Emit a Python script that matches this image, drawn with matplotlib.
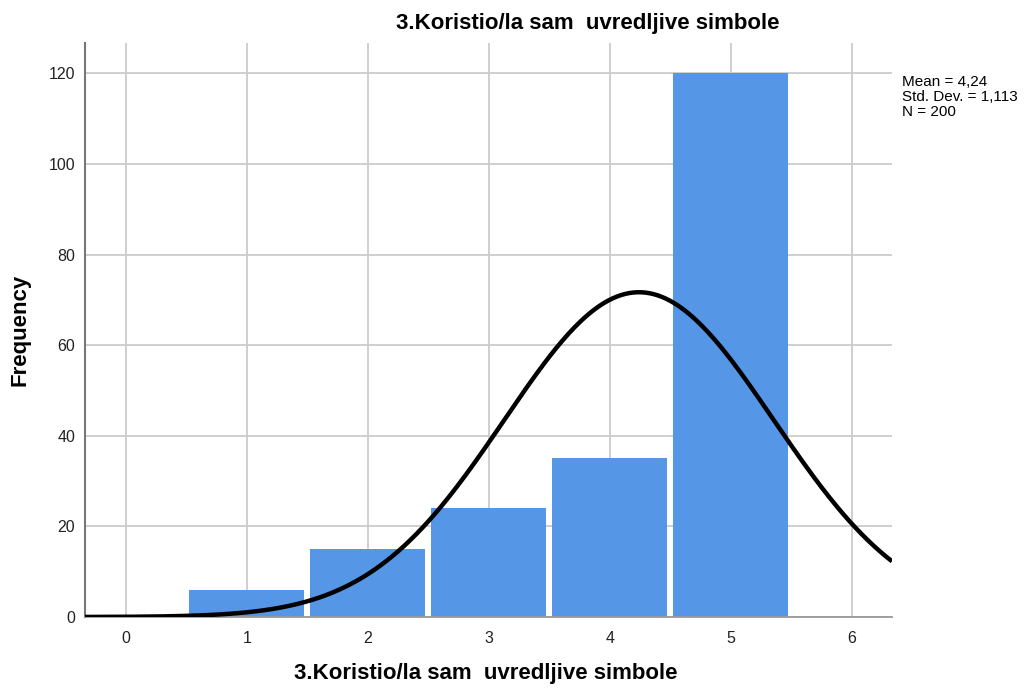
import numpy as np
import matplotlib
matplotlib.use("Agg")
import matplotlib.pyplot as plt

plt.rcParams['font.family'] = ['Liberation Sans', 'DejaVu Sans']

categories = [1, 2, 3, 4, 5]
frequencies = [6, 15, 24, 35, 120]
mean_val = 4.24
std_val = 1.113
n_val = 200
title = "3.Koristio/la sam  uvredljive simbole"
xticks = [0, 1, 2, 3, 4, 5, 6]
yticks = [0, 20, 40, 60, 80, 100, 120]

fig = plt.figure(figsize=(10.24, 6.89), dpi=100)
ax = fig.add_axes([85/1024, 1-617/689, (892-85)/1024, (617-43)/689])

ax.bar(categories, frequencies, width=0.95, color='#5596E6', edgecolor='none', zorder=2)

xs = np.linspace(-0.336, 6.33, 400)
ys = n_val * 1.0 / (std_val * np.sqrt(2*np.pi)) * np.exp(-0.5*((xs-mean_val)/std_val)**2)
ax.plot(xs, ys, color='black', lw=3.2, zorder=3, solid_capstyle='butt')

ax.set_xlim(-0.336, 6.33)
ax.set_ylim(0, 126.7)
ax.set_xticks(xticks)
ax.set_yticks(yticks)
ax.grid(True, color='#cccccc', lw=1.3, zorder=0)
ax.set_axisbelow(True)
ax.tick_params(length=0, labelsize=11.5, colors='#222222', pad=10)
ax.tick_params(axis='y', pad=7)
for s in ['top', 'right']:
    ax.spines[s].set_visible(False)
ax.spines['left'].set_color('#777777')
ax.spines['left'].set_linewidth(1.5)
ax.spines['bottom'].set_color('#999999')
ax.spines['bottom'].set_linewidth(1.3)

fig.text(588/1024, 1-24/689, title, ha='center', va='center', fontsize=16, fontweight='bold')
fig.text(486/1024, 1-673/689, title, ha='center', va='center', fontsize=16, fontweight='bold')
fig.text(20/1024, 1-330/689, "Frequency", ha='center', va='center', rotation=90, fontsize=16, fontweight='bold')
fig.text(902/1024, 1-75/689,
         f"Mean = {str(mean_val).replace('.', ',')}\nStd. Dev. = {str(std_val).replace('.', ',')}\nN = {n_val}",
         ha='left', va='top', fontsize=11, linespacing=1.1)

fig.savefig("out.png", dpi=100)
